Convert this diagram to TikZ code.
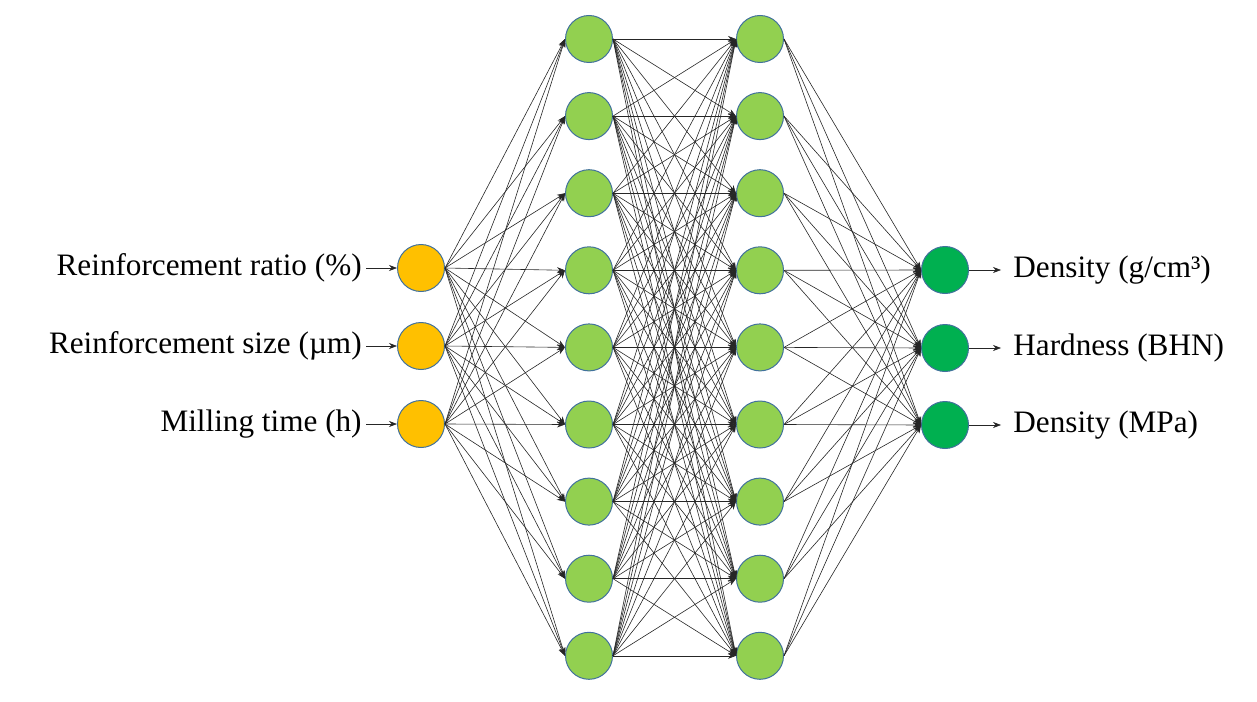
\documentclass[tikz,border=0pt]{standalone}
\usepackage{fontspec}
\setmainfont{Liberation Serif}
\usetikzlibrary{arrows.meta}

\definecolor{inorange}{HTML}{FFC000}
\definecolor{hidgreen}{HTML}{92D050}
\definecolor{outgreen}{HTML}{00B050}
\definecolor{rimblue}{HTML}{41719C}

\begin{document}
\begin{tikzpicture}[x=0.5pt,y=-0.5pt,
  neuron/.style={circle,draw=rimblue,line width=0.5pt,minimum size=23.5pt,inner sep=0pt},
  wire/.style={black!85,line width=0.3pt,-{Stealth[length=4pt,width=3pt]}},
  lbl/.style={font=\fontsize{15.6}{18}\selectfont,inner ysep=0pt}]
\useasboundingbox (0,0) rectangle (1257,701);
% the three inputs
\foreach \y [count=\i] in {268,346,424}
  \node[neuron,fill=inorange] (in\i) at (421,\y) {};
% both hidden layers have nine neurons, spaced evenly from top to bottom
\foreach \i in {1,...,9} {
  \pgfmathsetmacro\y{39+77.1*(\i-1)}
  \node[neuron,fill=hidgreen] (ha\i) at (589,\y) {};
  \node[neuron,fill=hidgreen] (hb\i) at (760,\y) {};
}
% the three outputs
\foreach \y [count=\i] in {270,348,425}
  \node[neuron,fill=outgreen] (out\i) at (945,\y) {};
% every neuron feeds every neuron of the next layer
\foreach \i in {1,2,3}
  \foreach \j in {1,...,9}
    \draw[wire] (in\i.east) -- (ha\j.west);
\foreach \i in {1,...,9}
  \foreach \j in {1,...,9}
    \draw[wire] (ha\i.east) -- (hb\j.west);
\foreach \i in {1,...,9}
  \foreach \j in {1,2,3}
    \draw[wire] (hb\i.east) -- (out\j.west);
% input names on the left
\node[lbl,anchor=east,inner xsep=2pt] (lin1) at (366,268) {Reinforcement ratio (\%)};
\node[lbl,anchor=east,inner xsep=2pt] (lin2) at (366,346) {Reinforcement size (µm)};
\node[lbl,anchor=east,inner xsep=2pt] (lin3) at (366,424) {Milling time (h)};
\foreach \i in {1,2,3}
  \draw[wire] (lin\i) -- (in\i);
% output names on the right
\node[lbl,anchor=west,inner xsep=6pt] (lout1) at (1001,270) {Density (g/cm³)};
\node[lbl,anchor=west,inner xsep=6pt] (lout2) at (1001,348) {Hardness (BHN)};
\node[lbl,anchor=west,inner xsep=6pt] (lout3) at (1001,425) {Density (MPa)};
\foreach \i in {1,2,3}
  \draw[wire] (out\i) -- (lout\i);
\end{tikzpicture}
\end{document}
